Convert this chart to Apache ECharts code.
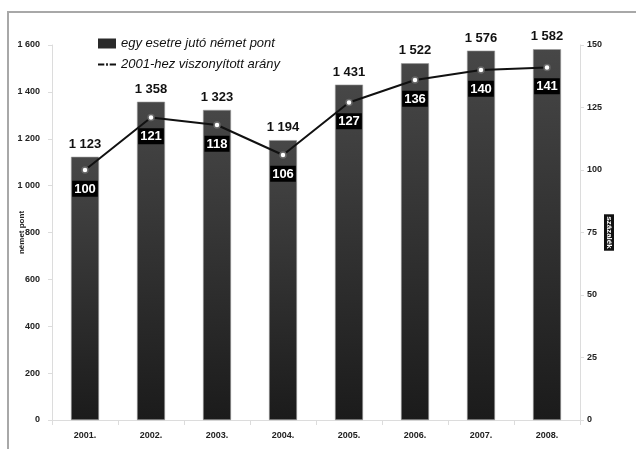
<!DOCTYPE html>
<html>
<head>
<meta charset="utf-8">
<script src="https://cdn.jsdelivr.net/npm/echarts@6/dist/echarts.min.js"></script>
<style>
  html, body { margin: 0; padding: 0; background: #fff; }
  #chart { width: 636px; height: 449px; }
</style>
</head>
<body>
<div id="chart"></div>
<script>
const years = ['2001.', '2002.', '2003.', '2004.', '2005.', '2006.', '2007.', '2008.'];
const points = [1123, 1358, 1323, 1194, 1431, 1522, 1576, 1582];
const ratio = [100, 121, 118, 106, 127, 136, 140, 141];

const barName = 'egy esetre jutó német pont';
const lineName = '2001-hez viszonyított arány';

// ezres tagolás szóközzel
const fmt = (v) => String(v).replace(/\B(?=(\d{3})+(?!\d))/g, ' ');

const chart = echarts.init(document.getElementById('chart'));

const axisGray = '#dcdcdc';
// vonal - pont - vonal jelkép a jelmagyarázathoz
const dashDot = 'path://M0,4L7,4L7,6L0,6Z M9,3.5L11,3.5L11,6.5L9,6.5Z M13,4L20,4L20,6L13,6Z';

chart.setOption({
  animation: false,
  textStyle: { fontFamily: 'Liberation Sans, Arial, sans-serif' },
  graphic: [
    {
      type: 'rect',
      shape: { x: 8, y: 12, width: 640, height: 460 },
      style: { fill: 'none', stroke: '#a8a8a8', lineWidth: 2 },
      silent: true,
    },
  ],
  grid: { left: 52, right: 56, top: 45, bottom: 29, outerBoundsMode: 'none', containLabel: false },
  legend: {
    orient: 'vertical',
    left: 93,
    top: 32,
    itemGap: 8,
    itemWidth: 18,
    itemHeight: 10,
    itemStyle: { borderWidth: 0 },
    data: [
      { name: barName, icon: 'rect', itemStyle: { color: '#2a2a2a', borderWidth: 0 } },
      { name: lineName, icon: dashDot, itemStyle: { color: '#111', borderWidth: 0 } },
    ],
    textStyle: { fontStyle: 'italic', fontSize: 13, color: '#111' },
  },
  xAxis: {
    type: 'category',
    data: years,
    axisLine: { lineStyle: { color: axisGray } },
    axisTick: { show: true, alignWithLabel: false, lineStyle: { color: axisGray } },
    axisLabel: { fontSize: 9, fontWeight: 'bold', color: '#222', margin: 11 },
  },
  yAxis: [
    {
      type: 'value',
      min: 0,
      max: 1600,
      interval: 200,
      name: 'német pont',
      nameLocation: 'middle',
      nameGap: 26,
      nameMoveOverlap: false,
      nameTextStyle: { fontSize: 8, fontWeight: 'bold', color: '#222' },
      axisLine: { show: true, lineStyle: { color: axisGray } },
      axisTick: { show: true, length: 4, lineStyle: { color: axisGray } },
      splitLine: { show: false },
      axisLabel: { fontSize: 9, fontWeight: 'bold', color: '#222', margin: 12, formatter: fmt },
    },
    {
      type: 'value',
      min: 0,
      max: 150,
      interval: 25,
      position: 'right',
      name: 'százalék',
      nameLocation: 'middle',
      nameRotate: -90,
      nameGap: 24,
      nameMoveOverlap: false,
      nameTextStyle: {
        fontSize: 8,
        fontWeight: 'bold',
        color: '#fff',
        backgroundColor: '#111',
        padding: [1, 2],
      },
      axisLine: { show: true, lineStyle: { color: axisGray } },
      axisTick: { show: true, length: 4, lineStyle: { color: axisGray } },
      splitLine: { show: false },
      axisLabel: { fontSize: 9, fontWeight: 'bold', color: '#222', margin: 7 },
    },
  ],
  series: [
    {
      name: barName,
      type: 'bar',
      data: points,
      barWidth: 28,
      itemStyle: {
        color: new echarts.graphic.LinearGradient(0, 0, 0, 1, [
          { offset: 0, color: '#474747' },
          { offset: 1, color: '#1b1b1b' },
        ]),
        borderColor: '#9a9a9a',
        borderWidth: 0.6,
      },
      label: {
        show: true,
        position: 'top',
        distance: 6,
        formatter: (p) => fmt(p.value),
        fontSize: 13,
        fontWeight: 'bold',
        color: '#111',
      },
    },
    {
      name: lineName,
      type: 'line',
      yAxisIndex: 1,
      data: ratio,
      symbol: 'circle',
      symbolSize: 6,
      lineStyle: { color: '#111', width: 2 },
      itemStyle: { color: '#fff', borderColor: '#666', borderWidth: 1.5 },
      label: {
        show: true,
        position: 'bottom',
        distance: 7,
        fontSize: 13,
        fontWeight: 'bold',
        color: '#fff',
        backgroundColor: '#000',
        padding: [2, 2, 1, 2],
      },
      z: 5,
    },
  ],
});
</script>
</body>
</html>
